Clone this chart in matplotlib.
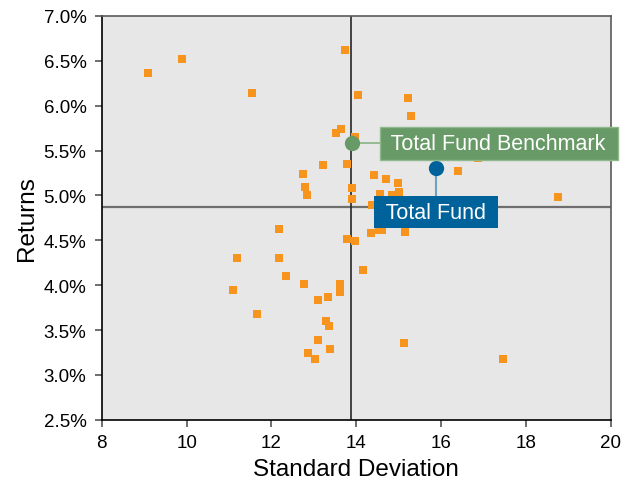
import matplotlib.pyplot as plt
from matplotlib.ticker import FuncFormatter

plt.rcParams['font.family'] = ['Liberation Sans', 'DejaVu Sans']

# peer universe: standard deviation vs. returns (%)
peer_std = [9.09, 9.90, 11.54, 13.73, 14.04, 15.21, 15.28, 13.64, 13.52, 13.98,
            13.21, 13.78, 12.74, 12.79, 12.84, 13.90, 13.90, 14.41, 14.70, 14.98,
            14.56, 14.84, 15.00, 14.37, 16.39, 16.86, 18.74, 14.34, 14.53, 14.60,
            15.14, 13.78, 13.97, 14.16, 15.12, 17.45, 12.18, 11.19, 12.18, 12.34,
            12.77, 13.61, 13.61, 11.10, 13.33, 13.10, 11.66, 13.28, 13.36, 13.10,
            13.38, 12.86, 13.03]
peer_ret = [6.36, 6.52, 6.14, 6.62, 6.12, 6.08, 5.88, 5.74, 5.69, 5.65,
            5.34, 5.35, 5.24, 5.09, 5.00, 5.08, 4.96, 5.23, 5.18, 5.14,
            5.02, 5.01, 5.04, 4.89, 5.27, 5.42, 4.98, 4.58, 4.62, 4.61,
            4.59, 4.52, 4.49, 4.17, 3.36, 3.18, 4.63, 4.30, 4.30, 4.10,
            4.01, 4.01, 3.92, 3.95, 3.87, 3.83, 3.68, 3.60, 3.55, 3.39,
            3.29, 3.25, 3.18]

bench_std, bench_ret = 13.90, 5.58
fund_std, fund_ret = 15.87, 5.31
median_std, median_ret = 13.87, 4.87

x_ticks = [8, 10, 12, 14, 16, 18, 20]
y_ticks = [2.5, 3.0, 3.5, 4.0, 4.5, 5.0, 5.5, 6.0, 6.5, 7.0]

fig = plt.figure(figsize=(6.33, 4.81), dpi=100)
ax = fig.add_axes([0.1607, 0.125, 0.8045, 0.840])
ax.set_facecolor('#e7e7e7')

ax.axhline(median_ret, color='#6e6e6e', lw=1.6, zorder=1)
ax.axvline(median_std, color='#262626', lw=1.2, zorder=1)

ax.scatter(peer_std, peer_ret, marker='s', s=26, color='#f7941d', lw=0, zorder=2)

# benchmark marker with label to the right
ax.plot([bench_std, 14.57], [bench_ret, bench_ret], color='#8fb88d', lw=1.3, zorder=3)
ax.plot(bench_std, bench_ret, 'o', ms=11, color='#679a66', mec='none', zorder=4)
ax.text(17.35, bench_ret, ' Total Fund Benchmark ', fontsize=15.5, color='white',
        va='center', ha='center', zorder=5, clip_on=False,
        bbox=dict(boxstyle='square,pad=0.27', fc='#679a66', ec='#8fb88d', lw=1))

# fund marker with label below
ax.plot([fund_std, fund_std], [fund_ret, 4.99], color='#6fa0c0', lw=1.5, zorder=3)
ax.plot(fund_std, fund_ret, 'o', ms=11, color='#00629b', mec='none', zorder=4)
ax.text(fund_std, 4.815, ' Total Fund ', fontsize=15.5, color='white',
        va='center', ha='center', zorder=5,
        bbox=dict(boxstyle='square,pad=0.27', fc='#00629b', ec='none'))

ax.set_xlim(8, 20)
ax.set_ylim(2.5, 7.0)
ax.set_xticks(x_ticks)
ax.set_yticks(y_ticks)
ax.yaxis.set_major_formatter(FuncFormatter(lambda v, p: f'{v:.1f}%'))
ax.tick_params(axis='both', labelsize=13.5, length=5, width=1.2, color='#555555')
ax.tick_params(axis='y', pad=6)
ax.tick_params(axis='x', pad=5)
ax.set_xlabel('Standard Deviation', fontsize=17.5, labelpad=5)
ax.set_ylabel('Returns', fontsize=17.5, labelpad=4)

for side in ['top', 'right']:
    ax.spines[side].set_color('#5a5a5a')
    ax.spines[side].set_linewidth(1.2)
for side in ['left', 'bottom']:
    ax.spines[side].set_color('black')
    ax.spines[side].set_linewidth(1.2)

fig.savefig('out.png', dpi=100)
